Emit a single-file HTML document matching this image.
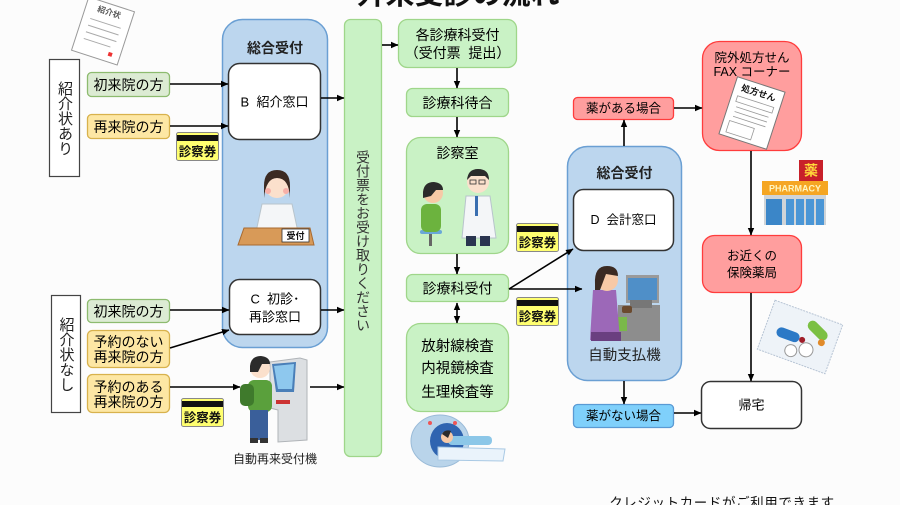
<!DOCTYPE html>
<html><head><meta charset="utf-8">
<style>
html,body{margin:0;padding:0;}
body{width:900px;height:505px;overflow:hidden;background:#fcfcfc;position:relative;font-family:"Liberation Sans","Noto Sans CJK JP",sans-serif;color:#333;}
.v{position:absolute;display:flex;align-items:center;justify-content:center;box-sizing:border-box;}
.vt{writing-mode:vertical-rl;line-height:1;}
svg{position:absolute;left:0;top:0;}
svg text{font-family:"Liberation Sans","Noto Sans CJK JP",sans-serif;}
</style></head><body>
<svg width="900" height="505" viewBox="0 0 900 505" xmlns="http://www.w3.org/2000/svg">
<defs>
<marker id="a" markerWidth="8" markerHeight="8" refX="7" refY="4" orient="auto-start-reverse" markerUnits="userSpaceOnUse"><path d="M0,0.8 L7.5,4 L0,7.2 z" fill="#000"/></marker>
</defs>

<!-- title -->
<text x="458" y="4" text-anchor="middle" font-size="29" font-weight="bold" fill="#111">外来受診の流れ</text>

<!-- 紹介状 document -->
<g transform="translate(103,31) rotate(18)">
<rect x="-24" y="-28" width="48" height="56" fill="#fff" stroke="#999" stroke-width="1"/>
<text x="0" y="-17" text-anchor="middle" font-size="8" font-weight="bold" fill="#555">紹介状</text>
<g stroke="#aaa" stroke-width="1"><line x1="-16" y1="-8" x2="16" y2="-8"/><line x1="-16" y1="-1" x2="16" y2="-1"/><line x1="-16" y1="6" x2="16" y2="6"/><line x1="-16" y1="13" x2="12" y2="13"/></g>
<rect x="12" y="18" width="4" height="4" fill="#e33"/>
</g>

<!-- left boxes group 1 -->
<rect x="49.5" y="59.5" width="30" height="117" fill="#fff" stroke="#444" stroke-width="1.2"/>
<rect x="87.5" y="72.5" width="82" height="24" rx="4" fill="#dcebd3" stroke="#8dbb6f" stroke-width="1.3"/>
<text x="128.5" y="85" text-anchor="middle" dominant-baseline="central" font-size="14">初来院の方</text>
<rect x="87.5" y="114.5" width="82" height="24" rx="4" fill="#fde7a4" stroke="#d8b24d" stroke-width="1.3"/>
<text x="128.5" y="127" text-anchor="middle" dominant-baseline="central" font-size="14">再来院の方</text>

<!-- card 1 -->
<g transform="translate(176,132)"><rect x="0.5" y="0.5" width="42" height="28" rx="2" fill="#ffff70" stroke="#888"/><rect x="1" y="3" width="41" height="6" fill="#111"/><text x="21.5" y="20" text-anchor="middle" dominant-baseline="central" font-size="12.5" font-weight="bold" fill="#111">診察券</text></g>

<!-- blue panel 1 -->
<rect x="222.5" y="19.5" width="105" height="328" rx="20" fill="#bcd6ee" stroke="#6a9fd3" stroke-width="1.5"/>
<text x="275" y="48" text-anchor="middle" dominant-baseline="central" font-size="14" font-weight="bold" fill="#222">総合受付</text>
<rect x="228.5" y="63.5" width="92" height="76" rx="11" fill="#fff" stroke="#333" stroke-width="1.5"/>
<text x="274.5" y="102" text-anchor="middle" dominant-baseline="central" font-size="13" xml:space="preserve">B  紹介窓口</text>
<rect x="229.5" y="279.5" width="91" height="55" rx="10" fill="#fff" stroke="#333" stroke-width="1.5"/>
<text x="275" y="299" text-anchor="middle" dominant-baseline="central" font-size="13" xml:space="preserve">C  初診･</text>
<text x="275" y="317" text-anchor="middle" dominant-baseline="central" font-size="13">再診窓口</text>

<!-- receptionist -->
<g>
<path d="M262,204 L292,204 L298,232 L256,232 z" fill="#f4f6f8" stroke="#b8c4cc"/>
<circle cx="277" cy="186" r="12" fill="#fbe0cc"/>
<path d="M264,186 Q264,170 277,170 Q290,170 290,186 L290,198 Q289,178 277,178 Q266,178 264,198 z" fill="#3b2a22"/>
<circle cx="268" cy="191" r="3" fill="#f7b0a8"/><circle cx="286" cy="191" r="3" fill="#f7b0a8"/>
<path d="M244,228 L310,228 L314,245 L238,245 z" fill="#d89a58" stroke="#a86a30"/>
<rect x="282" y="229" width="27" height="13" fill="#fff" stroke="#333" stroke-width="0.8"/>
<text x="295.5" y="236" text-anchor="middle" dominant-baseline="central" font-size="9" font-weight="bold" fill="#111">受付</text>
</g>

<!-- left boxes group 2 -->
<rect x="51.5" y="295.5" width="29" height="117" fill="#fff" stroke="#444" stroke-width="1.2"/>
<rect x="87.5" y="299.5" width="82" height="23" rx="4" fill="#dcebd3" stroke="#8dbb6f" stroke-width="1.3"/>
<text x="128.5" y="311.5" text-anchor="middle" dominant-baseline="central" font-size="14">初来院の方</text>
<rect x="87.5" y="330.5" width="82" height="37" rx="5" fill="#fde7a4" stroke="#d8b24d" stroke-width="1.3"/>
<text x="128.5" y="342" text-anchor="middle" dominant-baseline="central" font-size="14">予約のない</text>
<text x="128.5" y="357" text-anchor="middle" dominant-baseline="central" font-size="14">再来院の方</text>
<rect x="87.5" y="374.5" width="82" height="38" rx="5" fill="#fde7a4" stroke="#d8b24d" stroke-width="1.3"/>
<text x="128.5" y="387" text-anchor="middle" dominant-baseline="central" font-size="14">予約のある</text>
<text x="128.5" y="402" text-anchor="middle" dominant-baseline="central" font-size="14">再来院の方</text>

<!-- card 2 -->
<g transform="translate(181,398)"><rect x="0.5" y="0.5" width="42" height="28" rx="2" fill="#ffff70" stroke="#888"/><rect x="1" y="3" width="41" height="6" fill="#111"/><text x="21.5" y="20" text-anchor="middle" dominant-baseline="central" font-size="12.5" font-weight="bold" fill="#111">診察券</text></g>

<!-- kiosk -->
<g>
<path d="M270,362 L300,358 L307,360 L307,440 L278,442 L278,410 L270,408 z" fill="#dcdfe2" stroke="#b0b4b8"/>
<path d="M272,364 L296,362 L294,392 L276,392 z" fill="#4a7fb8"/>
<path d="M274,366 L294,364 L292,389 L278,389 z" fill="#8ec8ee"/>
<rect x="276" y="400" width="14" height="4" fill="#c33"/>
<circle cx="260" cy="368" r="10" fill="#fbe0cc"/>
<path d="M250,366 Q251,356 261,356 Q270,357 270,364 L262,364 L258,372 L250,372 z" fill="#2b2b2b"/>
<rect x="248" y="380" width="24" height="32" rx="6" fill="#5aa03c"/>
<rect x="240" y="384" width="14" height="22" rx="5" fill="#3f7a2c"/>
<rect x="250" y="410" width="18" height="30" fill="#3a5f9a"/>
<rect x="250" y="438" width="8" height="5" fill="#333"/><rect x="260" y="438" width="8" height="5" fill="#333"/>
</g>
<text x="275" y="459" text-anchor="middle" dominant-baseline="central" font-size="12" fill="#222">自動再来受付機</text>

<!-- green vertical panel -->
<rect x="344.5" y="19.5" width="37" height="437" rx="6" fill="#c9f2c5" stroke="#9fd68a" stroke-width="1.3"/>

<!-- middle column -->
<rect x="398.5" y="19.5" width="118" height="48" rx="9" fill="#c9f2c5" stroke="#9fd68a" stroke-width="1.3"/>
<text x="457.5" y="35" text-anchor="middle" dominant-baseline="central" font-size="14">各診療科受付</text>
<text x="457.5" y="53" text-anchor="middle" dominant-baseline="central" font-size="14" xml:space="preserve">（受付票  提出）</text>
<rect x="406.5" y="88.5" width="102" height="28" rx="6" fill="#c9f2c5" stroke="#9fd68a" stroke-width="1.3"/>
<text x="457.5" y="103" text-anchor="middle" dominant-baseline="central" font-size="14">診療科待合</text>
<rect x="406.5" y="137.5" width="102" height="116" rx="14" fill="#c9f2c5" stroke="#9fd68a" stroke-width="1.3"/>
<text x="457.5" y="153" text-anchor="middle" dominant-baseline="central" font-size="14">診察室</text>

<!-- doctor scene -->
<g>
<rect x="420" y="230" width="22" height="4" rx="2" fill="#6aa8d8"/>
<rect x="429" y="234" width="3" height="12" fill="#666"/>
<rect x="421" y="204" width="20" height="28" rx="6" fill="#6cb33e"/>
<circle cx="433" cy="193" r="10" fill="#f7c9a6"/>
<path d="M423,192 Q424,182 434,182 Q443,183 443,190 L436,190 L431,196 L423,198 z" fill="#2b2b2b"/>
<path d="M466,196 L490,196 L496,238 L462,238 z" fill="#f4f6f8" stroke="#b8c4cc"/>
<rect x="475" y="196" width="3" height="20" fill="#3a6fb0"/>
<rect x="466" y="236" width="10" height="10" fill="#2a3550"/><rect x="480" y="236" width="10" height="10" fill="#2a3550"/>
<circle cx="478" cy="182" r="11" fill="#fbe0cc"/>
<path d="M467,180 Q468,169 478,169 Q489,169 489,180 L485,176 L471,176 z" fill="#2b2b2b"/>
<rect x="470" y="180" width="6" height="4" fill="none" stroke="#333" stroke-width="0.8"/><rect x="479" y="180" width="6" height="4" fill="none" stroke="#333" stroke-width="0.8"/>
</g>

<rect x="406.5" y="274.5" width="102" height="27" rx="6" fill="#c9f2c5" stroke="#9fd68a" stroke-width="1.3"/>
<text x="457.5" y="288.5" text-anchor="middle" dominant-baseline="central" font-size="14">診療科受付</text>
<rect x="406.5" y="323.5" width="102" height="88" rx="14" fill="#c9f2c5" stroke="#9fd68a" stroke-width="1.3"/>
<text x="457.5" y="347" text-anchor="middle" dominant-baseline="central" font-size="14.5">放射線検査</text>
<text x="457.5" y="369" text-anchor="middle" dominant-baseline="central" font-size="14.5">内視鏡検査</text>
<text x="457.5" y="393" text-anchor="middle" dominant-baseline="central" font-size="14.5">生理検査等</text>

<!-- MRI -->
<g>
<ellipse cx="440" cy="441" rx="29" ry="26" fill="#b9d4ea" stroke="#9abbd8"/>
<ellipse cx="447" cy="441" rx="17" ry="18" fill="#2f64b0"/>
<path d="M438,447 L505,449 L503,461 L438,460 z" fill="#eaf3fb" stroke="#a9c9e4"/>
<rect x="448" y="436" width="44" height="9" rx="4" fill="#8cc7e8"/>
<circle cx="447" cy="437" r="6" fill="#f7c9a6"/>
<path d="M442,434 Q445,429 451,431 L448,438 z" fill="#2b2b2b"/>
<circle cx="455" cy="423" r="2" fill="#e55"/><circle cx="430" cy="423" r="2" fill="#e55"/>
</g>

<!-- cards 3,4 -->
<g transform="translate(516,223)"><rect x="0.5" y="0.5" width="42" height="28" rx="2" fill="#ffff70" stroke="#888"/><rect x="1" y="3" width="41" height="6" fill="#111"/><text x="21.5" y="20" text-anchor="middle" dominant-baseline="central" font-size="12.5" font-weight="bold" fill="#111">診察券</text></g>
<g transform="translate(516,297)"><rect x="0.5" y="0.5" width="42" height="28" rx="2" fill="#ffff70" stroke="#888"/><rect x="1" y="3" width="41" height="6" fill="#111"/><text x="21.5" y="20" text-anchor="middle" dominant-baseline="central" font-size="12.5" font-weight="bold" fill="#111">診察券</text></g>

<!-- blue panel 2 -->
<rect x="567.5" y="146.5" width="114" height="234" rx="20" fill="#bcd6ee" stroke="#6a9fd3" stroke-width="1.5"/>
<text x="624.5" y="173" text-anchor="middle" dominant-baseline="central" font-size="14" font-weight="bold" fill="#222">総合受付</text>
<rect x="573.5" y="189.5" width="100" height="61" rx="10" fill="#fff" stroke="#333" stroke-width="1.5"/>
<text x="623.5" y="220" text-anchor="middle" dominant-baseline="central" font-size="12.5" xml:space="preserve">D  会計窓口</text>

<!-- cashier -->
<g>
<rect x="626" y="275" width="33" height="28" fill="#9a9a9a"/>
<rect x="628" y="278" width="29" height="22" fill="#4f8fc8"/>
<rect x="618" y="305" width="42" height="36" fill="#8d8d8d"/>
<rect x="630" y="300" width="22" height="8" fill="#777"/>
<rect x="611" y="317" width="16" height="14" fill="#7ab84a"/>
<path d="M593,290 L616,290 L620,340 L590,340 z" fill="#9c68b8"/>
<rect x="591" y="332" width="30" height="9" fill="#6a3f80"/>
<circle cx="607" cy="280" r="11" fill="#f7c9a6"/>
<path d="M595,284 Q594,266 607,266 Q618,266 618,276 L606,274 L600,290 L595,290 z" fill="#3b2a22"/>
<rect x="622" y="306" width="10" height="7" rx="2" fill="#6b4a2e"/>
</g>
<text x="624.5" y="356" text-anchor="middle" dominant-baseline="central" font-size="14.5" fill="#222">自動支払機</text>

<!-- right column -->
<rect x="573.5" y="97.5" width="100" height="22" rx="4" fill="#ff9e9e" stroke="#ff3c3c" stroke-width="1.3"/>
<text x="623.5" y="108.5" text-anchor="middle" dominant-baseline="central" font-size="12.5">薬がある場合</text>
<rect x="573.5" y="404.5" width="100" height="23" rx="4" fill="#7fd0fb" stroke="#5a9ad4" stroke-width="1.3"/>
<text x="623.5" y="416" text-anchor="middle" dominant-baseline="central" font-size="12.5">薬がない場合</text>

<rect x="702.5" y="41.5" width="99" height="109" rx="17" fill="#ff9e9e" stroke="#ff3c3c" stroke-width="1.3"/>
<text x="752" y="58" text-anchor="middle" dominant-baseline="central" font-size="12.5">院外処方せん</text>
<text x="752" y="72" text-anchor="middle" dominant-baseline="central" font-size="12.5" xml:space="preserve">FAX コーナー</text>
<g transform="translate(752,113) rotate(18)">
<rect x="-25" y="-30" width="50" height="60" fill="#fff" stroke="#777"/>
<text x="0" y="-21" text-anchor="middle" dominant-baseline="central" font-size="9" font-weight="bold" fill="#111">処方せん</text>
<g stroke="#999" stroke-width="0.8" fill="none"><rect x="-19" y="-12" width="38" height="6"/><line x1="-17" y1="-1" x2="17" y2="-1"/><line x1="-17" y1="4" x2="17" y2="4"/><line x1="-17" y1="9" x2="17" y2="9"/><rect x="-19" y="14" width="26" height="12"/></g>
</g>

<!-- pharmacy -->
<g>
<rect x="799" y="160" width="24" height="21" fill="#c8202a"/>
<text x="811" y="170.5" text-anchor="middle" dominant-baseline="central" font-size="14" font-weight="bold" fill="#ffd93a">薬</text>
<rect x="762" y="181" width="66" height="14" fill="#f5a623"/>
<text x="795" y="188.5" text-anchor="middle" dominant-baseline="central" font-size="9" font-weight="bold" fill="#fff6c0">PHARMACY</text>
<rect x="764" y="195" width="62" height="30" fill="#cfd4d8"/>
<rect x="766" y="199" width="16" height="26" fill="#3b86c8"/>
<rect x="786" y="199" width="38" height="26" fill="#4a96d6"/>
<line x1="795" y1="199" x2="795" y2="225" stroke="#cfd4d8" stroke-width="2"/><line x1="805" y1="199" x2="805" y2="225" stroke="#cfd4d8" stroke-width="2"/><line x1="815" y1="199" x2="815" y2="225" stroke="#cfd4d8" stroke-width="2"/>
</g>

<rect x="702.5" y="235.5" width="99" height="57" rx="12" fill="#ff9e9e" stroke="#ff3c3c" stroke-width="1.3"/>
<text x="752" y="256" text-anchor="middle" dominant-baseline="central" font-size="12.5">お近くの</text>
<text x="752" y="273" text-anchor="middle" dominant-baseline="central" font-size="12.5">保険薬局</text>

<!-- medicine -->
<g transform="translate(800,337) rotate(20)">
<rect x="-36" y="-26" width="72" height="52" fill="#eef3f8" stroke="#b7c4d4" stroke-dasharray="2 1"/>
<rect x="-24" y="-3" width="24" height="10" rx="5" fill="#2c79c6"/>
<rect x="-4" y="-22" width="24" height="10" rx="5" fill="#7bc043" transform="rotate(25)"/>
<circle cx="10" cy="10" r="7" fill="#fff" stroke="#999"/>
<circle cx="-4" cy="16" r="6" fill="#fff" stroke="#999"/>
<circle cx="22" cy="-2" r="3.5" fill="#e08a2a"/>
<circle cx="3" cy="2" r="3" fill="#a01e2a"/>
</g>

<rect x="701.5" y="381.5" width="100" height="47" rx="9" fill="#fff" stroke="#333" stroke-width="1.5"/>
<text x="751.5" y="405" text-anchor="middle" dominant-baseline="central" font-size="13">帰宅</text>

<!-- bottom text -->
<text x="722" y="503" text-anchor="middle" dominant-baseline="central" font-size="13.5" letter-spacing="0.6" fill="#111">クレジットカードがご利用できます</text>

<!-- arrows -->
<g stroke="#000" stroke-width="1.6" fill="none" marker-end="url(#a)">
<line x1="170" y1="84" x2="228" y2="84"/>
<line x1="170" y1="126" x2="228" y2="126"/>
<line x1="321" y1="98" x2="344" y2="98"/>
<line x1="170" y1="310" x2="229" y2="310"/>
<line x1="170" y1="348" x2="229" y2="330"/>
<line x1="170" y1="387" x2="240" y2="387"/>
<line x1="310" y1="387" x2="344" y2="387"/>
<line x1="321" y1="310" x2="344" y2="310"/>
<line x1="382" y1="45" x2="398" y2="45"/>
<line x1="457" y1="68" x2="457" y2="88"/>
<line x1="457" y1="117" x2="457" y2="137"/>
<line x1="457" y1="254" x2="457" y2="274"/>
<line x1="457" y1="303" x2="457" y2="323" marker-start="url(#a)"/>
<line x1="509" y1="289" x2="573" y2="249"/>
<line x1="509" y1="289" x2="582" y2="289"/>
<line x1="624" y1="146" x2="624" y2="120"/>
<line x1="674" y1="108" x2="702" y2="108"/>
<line x1="751" y1="151" x2="751" y2="235"/>
<line x1="751" y1="293" x2="751" y2="381"/>
<line x1="624" y1="381" x2="624" y2="404"/>
<line x1="674" y1="413" x2="701" y2="413"/>
</g>
</svg>

<!-- vertical texts -->
<div class="v" style="left:49px;top:59px;width:31px;height:118px;"><div class="vt" style="font-size:15px;color:#222;">紹介状あり</div></div>
<div class="v" style="left:51px;top:295px;width:30px;height:118px;"><div class="vt" style="font-size:15px;color:#222;">紹介状なし</div></div>
<div style="position:absolute;left:356px;top:150px;width:15px;"><div class="vt" style="font-size:14px;color:#333;">受付票をお受け取りください</div></div>
</body></html>
